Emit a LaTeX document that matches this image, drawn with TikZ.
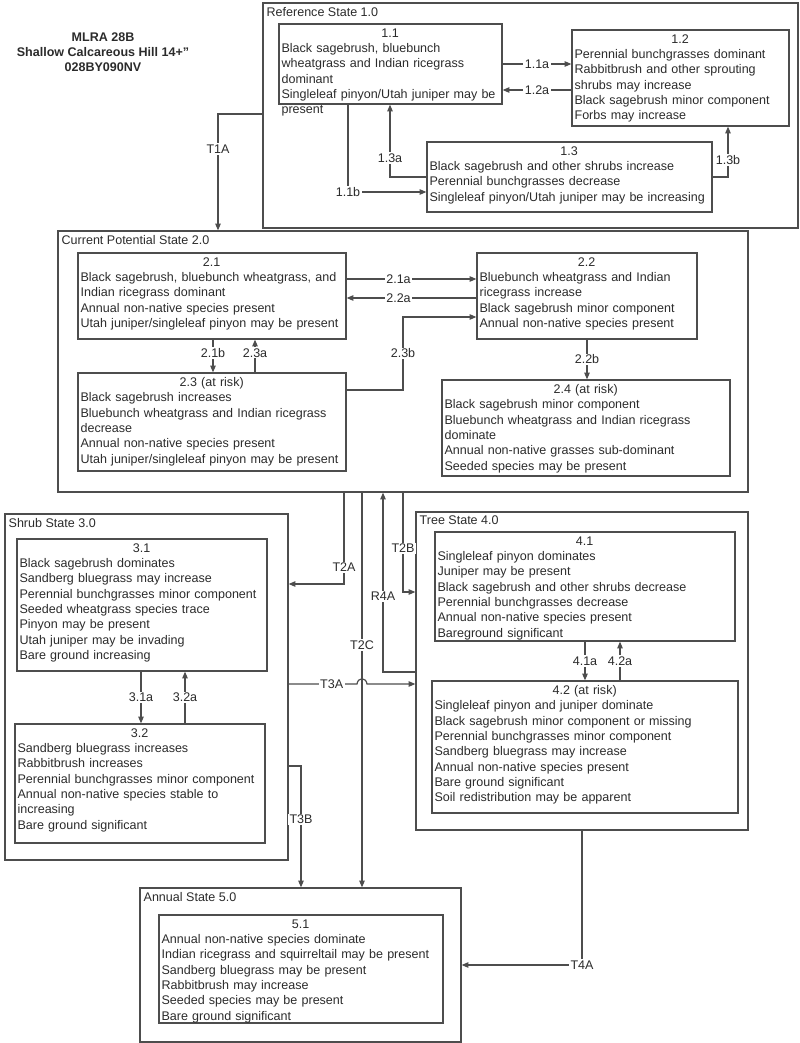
\documentclass[tikz,border=0pt]{standalone}
\usepackage{fontspec}
\setmainfont{Liberation Sans}
\usepackage{tikz}
\usetikzlibrary{arrows.meta, fit}
\definecolor{edge}{HTML}{4D4D4D}
\definecolor{ink}{HTML}{2B2B2B}

\begin{document}
\begin{tikzpicture}[x=0.75pt, y=-0.75pt,
  every node/.style={font=\fontsize{9.4}{11.5}\selectfont, text=ink},
  stbox/.style={draw=edge, line width=0.9pt, inner sep=0pt},
  combox/.style={draw=edge, line width=0.9pt, inner sep=0pt},
  body/.style={anchor=north west, align=left, inner xsep=2.2pt, inner ysep=3.6pt},
  stitle/.style={anchor=north west, inner xsep=3pt, inner ysep=3.2pt},
  lbl/.style={fill=white, inner sep=1pt},
  tr/.style={draw=edge, line width=0.9pt, -{Triangle[length=5pt, width=4pt]}}]

\useasboundingbox (0,0) rectangle (800,1043);

\node[font=\bfseries\fontsize{9.4}{11.3}\selectfont, align=center] (ttl) at (103,52)
  {MLRA 28B\\Shallow Calcareous Hill 14+''\\028BY090NV};

% Reference State 1.0
\node[stbox, fit={(263,3) (798,228)}] (S1) {};
\node[stitle] (S1t) at (S1.north west) {Reference State 1.0};
\node[combox, fit={(279,24) (502,104)}] (b11) {};
\node[body, text width=162.8pt] (t11) at (b11.north west)
  {\makebox[\linewidth]{1.1}\\Black sagebrush, bluebunch\\wheatgrass and Indian ricegrass\\dominant\\
   Singleleaf pinyon/Utah juniper may be\\present};
\node[combox, fit={(572,30) (789,126)}] (b12) {};
\node[body, text width=158.3pt] (t12) at (b12.north west)
  {\makebox[\linewidth]{1.2}\\Perennial bunchgrasses dominant\\Rabbitbrush and other sprouting\\
   shrubs may increase\\Black sagebrush minor component\\Forbs may increase};
\node[combox, fit={(427,142) (712,212)}] (b13) {};
\node[body, text width=209.3pt] (t13) at (b13.north west)
  {\makebox[\linewidth]{1.3}\\Black sagebrush and other shrubs increase\\Perennial bunchgrasses decrease\\
   Singleleaf pinyon/Utah juniper may be increasing};

% Current Potential State 2.0
\node[stbox, fit={(58,231) (748,492)}] (S2) {};
\node[stitle] (S2t) at (S2.north west) {Current Potential State 2.0};
\node[combox, fit={(78,253) (346,339)}] (b21) {};
\node[body, text width=196.6pt] (t21) at (b21.north west)
  {\makebox[\linewidth]{2.1}\\Black sagebrush, bluebunch wheatgrass, and\\Indian ricegrass dominant\\
   Annual non-native species present\\Utah juniper/singleleaf pinyon may be present};
\node[combox, fit={(477,253) (697,339)}] (b22) {};
\node[body, text width=160.6pt] (t22) at (b22.north west)
  {\makebox[\linewidth]{2.2}\\Bluebunch wheatgrass and Indian\\ricegrass increase\\
   Black sagebrush minor component\\Annual non-native species present};
\node[combox, fit={(78,373) (346,471)}] (b23) {};
\node[body, text width=196.6pt] (t23) at (b23.north west)
  {\makebox[\linewidth]{2.3 (at risk)}\\Black sagebrush increases\\Bluebunch wheatgrass and Indian ricegrass\\
   decrease\\Annual non-native species present\\Utah juniper/singleleaf pinyon may be present};
\node[combox, fit={(442,380) (730,476)}] (b24) {};
\node[body, text width=211.6pt] (t24) at (b24.north west)
  {\makebox[\linewidth]{2.4 (at risk)}\\Black sagebrush minor component\\Bluebunch wheatgrass and Indian ricegrass\\
   dominate\\Annual non-native grasses sub-dominant\\Seeded species may be present};

% Shrub State 3.0
\node[stbox, fit={(5,514) (288,860)}] (S3) {};
\node[stitle] (S3t) at (S3.north west) {Shrub State 3.0};
\node[combox, fit={(17,539) (267,671)}] (b31) {};
\node[body, text width=183.1pt] (t31) at (b31.north west)
  {\makebox[\linewidth]{3.1}\\Black sagebrush dominates\\Sandberg bluegrass may increase\\
   Perennial bunchgrasses minor component\\Seeded wheatgrass species trace\\Pinyon may be present\\
   Utah juniper may be invading\\Bare ground increasing};
\node[combox, fit={(15,724) (265,843)}] (b32) {};
\node[body, text width=183.1pt] (t32) at (b32.north west)
  {\makebox[\linewidth]{3.2}\\Sandberg bluegrass increases\\Rabbitbrush increases\\
   Perennial bunchgrasses minor component\\Annual non-native species stable to\\increasing\\
   Bare ground significant};

% Tree State 4.0
\node[stbox, fit={(416,512) (748,830)}] (S4) {};
\node[stitle] (S4t) at (S4.north west) {Tree State 4.0};
\node[combox, fit={(435,532) (735,641)}] (b41) {};
\node[body, text width=220.6pt] (t41) at (b41.north west)
  {\makebox[\linewidth]{4.1}\\Singleleaf pinyon dominates\\Juniper may be present\\
   Black sagebrush and other shrubs decrease\\Perennial bunchgrasses decrease\\
   Annual non-native species present\\Bareground significant};
\node[combox, fit={(432,681) (738,813)}] (b42) {};
\node[body, text width=225.1pt] (t42) at (b42.north west)
  {\makebox[\linewidth]{4.2 (at risk)}\\Singleleaf pinyon and juniper dominate\\
   Black sagebrush minor component or missing\\Perennial bunchgrasses minor component\\
   Sandberg bluegrass may increase\\Annual non-native species present\\Bare ground significant\\
   Soil redistribution may be apparent};

% Annual State 5.0
\node[stbox, fit={(140,888) (461,1042)}] (S5) {};
\node[stitle] (S5t) at (S5.north west) {Annual State 5.0};
\node[combox, fit={(159,915) (443,1023)}] (b51) {};
\node[body, text width=208.6pt] (t51) at (b51.north west)
  {\makebox[\linewidth]{5.1}\\Annual non-native species dominate\\
   Indian ricegrass and squirreltail may be present\\Sandberg bluegrass may be present\\
   Rabbitbrush may increase\\Seeded species may be present\\Bare ground significant};

% bend points
\coordinate (c12a) at (0,90);
\coordinate (c11b) at (348,192);
\coordinate (c13a) at (390,177);
\coordinate (c13b) at (728,177);
\coordinate (cT1A) at (218,114);
\coordinate (c21a) at (0,279);
\coordinate (c22a) at (0,298);
\coordinate (k23b) at (403,390);
\coordinate (y23b) at (0,317);
\coordinate (x21b) at (213,0);
\coordinate (x23a) at (255,0);
\coordinate (x22b) at (587,0);
\coordinate (x31a) at (141,0);
\coordinate (x32a) at (185,0);
\coordinate (x41a) at (585,0);
\coordinate (x42a) at (620,0);
\coordinate (kT2A) at (344,584);
\coordinate (kT2B) at (403,592);
\coordinate (kR4A) at (383,672);
\coordinate (xT2C) at (362,0);
\coordinate (h1) at (357,684);
\coordinate (h2) at (367,684);
\coordinate (kT3B) at (301,766);
\coordinate (kT4A) at (582,965);

% within states
\draw[tr] (b11.east) -- node[lbl]{1.1a} (b11.east -| b12.west);
\draw[tr] (b12.west |- c12a) -- node[lbl]{1.2a} (b11.east |- c12a);
\draw[tr] (b11.south -| c11b) |- node[lbl]{1.1b} (b13.west |- c11b);
\draw[tr] (b13.west |- c13a) -| node[lbl, pos=0.63]{1.3a} (b11.south -| c13a);
\draw[tr] (b13.east |- c13b) -| node[lbl, pos=0.67]{1.3b} (b12.south -| c13b);

\draw[tr] (b21.east |- c21a) -- node[lbl, pos=0.4]{2.1a} (b22.west |- c21a);
\draw[tr] (b22.west |- c22a) -- node[lbl, pos=0.6]{2.2a} (b21.east |- c22a);
\draw[tr] (b23.east |- k23b) -- (k23b) -- node[lbl]{2.3b} (k23b |- y23b) -- (b22.west |- y23b);
\draw[tr] (b21.south -| x21b) -- node[lbl, pos=0.4]{2.1b} (b23.north -| x21b);
\draw[tr] (b23.north -| x23a) -- node[lbl, pos=0.6]{2.3a} (b21.south -| x23a);
\draw[tr] (b22.south -| x22b) -- node[lbl]{2.2b} (b24.north -| x22b);

\draw[tr] (b31.south -| x31a) -- node[lbl]{3.1a} (b32.north -| x31a);
\draw[tr] (b32.north -| x32a) -- node[lbl]{3.2a} (b31.south -| x32a);
\draw[tr] (b41.south -| x41a) -- node[lbl]{4.1a} (b42.north -| x41a);
\draw[tr] (b42.north -| x42a) -- node[lbl]{4.2a} (b41.south -| x42a);

% between states
\draw[tr] (S1.west |- cT1A) -| node[lbl, pos=0.65]{T1A} (S2.north -| cT1A);
\draw[tr] (S2.south -| kT2A) |- node[lbl, pos=0.41]{T2A} (S3.east |- kT2A);
\draw[tr] (S2.south -| kT2B) |- node[lbl, pos=0.28]{T2B} (S4.west |- kT2B);
\draw[tr] (S4.west |- kR4A) -| node[lbl, pos=0.71]{R4A} (S2.south -| kR4A);
\draw[tr] (S2.south -| xT2C) -- node[lbl, pos=0.386]{T2C} (S5.north -| xT2C);
\draw[tr] (S3.east |- h1) -- node[lbl, pos=0.63]{T3A} (h1)
  .. controls +(1,-7) and +(-1,-7) .. (h2) -- (S4.west |- h2);
\draw[tr] (S3.east |- kT3B) -| node[lbl, pos=0.72]{T3B} (S5.north -| kT3B);
\draw[tr] (S4.south -| kT4A) |- node[lbl]{T4A} (S5.east |- kT4A);
\end{tikzpicture}
\end{document}
